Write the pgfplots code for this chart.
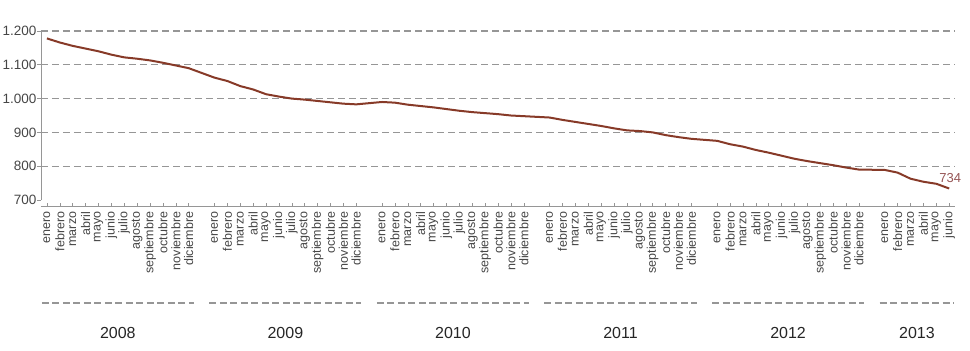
\documentclass[border=0pt]{standalone}
\usepackage{pgfplots}
\pgfplotsset{compat=1.18}
\usepackage{fontspec}
\setmainfont{Liberation Sans}
\definecolor{linebrown}{RGB}{135,58,40}
\definecolor{labbrown}{RGB}{150,85,85}
\definecolor{gridgray}{RGB}{150,150,150}
\definecolor{txtgray}{RGB}{70,70,70}
\begin{document}
\begin{tikzpicture}
\begin{axis}[
  scale only axis,
  width=914pt, height=169pt,
  xmin=-0.46, xmax=70.45,
  ymin=700, ymax=1200,
  clip=false,
  axis y line*=left,
  axis x line*=bottom,
  x axis line style={draw=none},
  y axis line style={draw=gridgray, line width=0.9pt},
  ytick={800,900,1000,1100,1200},
  extra y ticks={700},
  extra y tick style={grid=none},
  ymajorgrids,
  grid style={draw=gridgray, line width=1.1pt, dash pattern=on 7pt off 4pt},
  y tick style={draw=gridgray, line width=0.9pt},
  tick align=outside,
  major tick length=3.5pt,
  yticklabel style={font=\fontsize{13.5}{13.5}\selectfont, text=txtgray, inner sep=1pt},
  /pgf/number format/.cd, 1000 sep={.}, assume math mode=true,
  /pgfplots/.cd,
  xtick={0,1,2,3,4,5,6,7,8,9,10,11,13,14,15,16,17,18,19,20,21,22,23,24,26,27,28,29,30,31,32,33,34,35,36,37,39,40,41,42,43,44,45,46,47,48,49,50,52,53,54,55,56,57,58,59,60,61,62,63,65,66,67,68,69,70},
  xticklabels={enero,febrero,marzo,abril,mayo,junio,julio,agosto,septiembre,octubre,noviembre,diciembre,enero,febrero,marzo,abril,mayo,junio,julio,agosto,septiembre,octubre,noviembre,diciembre,enero,febrero,marzo,abril,mayo,junio,julio,agosto,septiembre,octubre,noviembre,diciembre,enero,febrero,marzo,abril,mayo,junio,julio,agosto,septiembre,octubre,noviembre,diciembre,enero,febrero,marzo,abril,mayo,junio,julio,agosto,septiembre,octubre,noviembre,diciembre,enero,febrero,marzo,abril,mayo,junio},
  x tick style={draw=gridgray, line width=0.6pt, yshift=-2.5pt},
  x tick label style={rotate=90, anchor=east, font=\fontsize{12.5}{12.5}\selectfont, text=txtgray, inner sep=0pt},
  xticklabel shift=8pt,
]
\addplot[linebrown, line width=2pt] table {
x y
0 1178
1 1166
2 1156
3 1148
4 1140
5 1130
6 1122
7 1118
8 1113
9 1106
10 1098
11 1090
13 1062
14 1052
15 1037
16 1027
17 1013
18 1006
19 1000
20 997
21 993
22 989
23 985
24 983
26 990
27 988
28 982
29 978
30 974
31 969
32 964
33 960
34 957
35 954
36 950
37 948
39 944
40 937
41 931
42 925
43 919
44 912
45 906
46 904
47 900
48 892
49 886
50 881
52 875
53 865
54 858
55 848
56 840
57 831
58 822
59 815
60 809
61 803
62 796
63 790
65 789
66 781
67 763
68 754
69 748
70 734
} node[pos=1, anchor=south, yshift=2pt, xshift=1pt, text=labbrown, font=\fontsize{13}{13}\selectfont] {734};
% bottom axis line
\draw[gridgray, line width=0.9pt] ([yshift=-6pt]rel axis cs:0,0) -- ([yshift=-6pt]rel axis cs:1,0);
% year separators and labels
\draw[gridgray, line width=1.2pt, dash pattern=on 7pt off 3.5pt] ([yshift=-103pt]axis cs:-0.4,700) -- ([yshift=-103pt]axis cs:11.4,700);
\draw[gridgray, line width=1.2pt, dash pattern=on 7pt off 3.5pt] ([yshift=-103pt]axis cs:12.6,700) -- ([yshift=-103pt]axis cs:24.4,700);
\draw[gridgray, line width=1.2pt, dash pattern=on 7pt off 3.5pt] ([yshift=-103pt]axis cs:25.6,700) -- ([yshift=-103pt]axis cs:37.4,700);
\draw[gridgray, line width=1.2pt, dash pattern=on 7pt off 3.5pt] ([yshift=-103pt]axis cs:38.6,700) -- ([yshift=-103pt]axis cs:50.4,700);
\draw[gridgray, line width=1.2pt, dash pattern=on 7pt off 3.5pt] ([yshift=-103pt]axis cs:51.6,700) -- ([yshift=-103pt]axis cs:63.4,700);
\draw[gridgray, line width=1.2pt, dash pattern=on 7pt off 3.5pt] ([yshift=-103pt]axis cs:64.6,700) -- ([yshift=-103pt]axis cs:70.4,700);
\node[font=\fontsize{16}{16}\selectfont, text=black!85] at ([yshift=-133pt]axis cs:5.5,700) {2008};
\node[font=\fontsize{16}{16}\selectfont, text=black!85] at ([yshift=-133pt]axis cs:18.5,700) {2009};
\node[font=\fontsize{16}{16}\selectfont, text=black!85] at ([yshift=-133pt]axis cs:31.5,700) {2010};
\node[font=\fontsize{16}{16}\selectfont, text=black!85] at ([yshift=-133pt]axis cs:44.5,700) {2011};
\node[font=\fontsize{16}{16}\selectfont, text=black!85] at ([yshift=-133pt]axis cs:57.5,700) {2012};
\node[font=\fontsize{16}{16}\selectfont, text=black!85] at ([yshift=-133pt]axis cs:67.5,700) {2013};
\end{axis}
\pgfresetboundingbox
\path[use as bounding box] (-41pt,-151pt) rectangle (929pt,200pt);
\end{tikzpicture}
\end{document}
